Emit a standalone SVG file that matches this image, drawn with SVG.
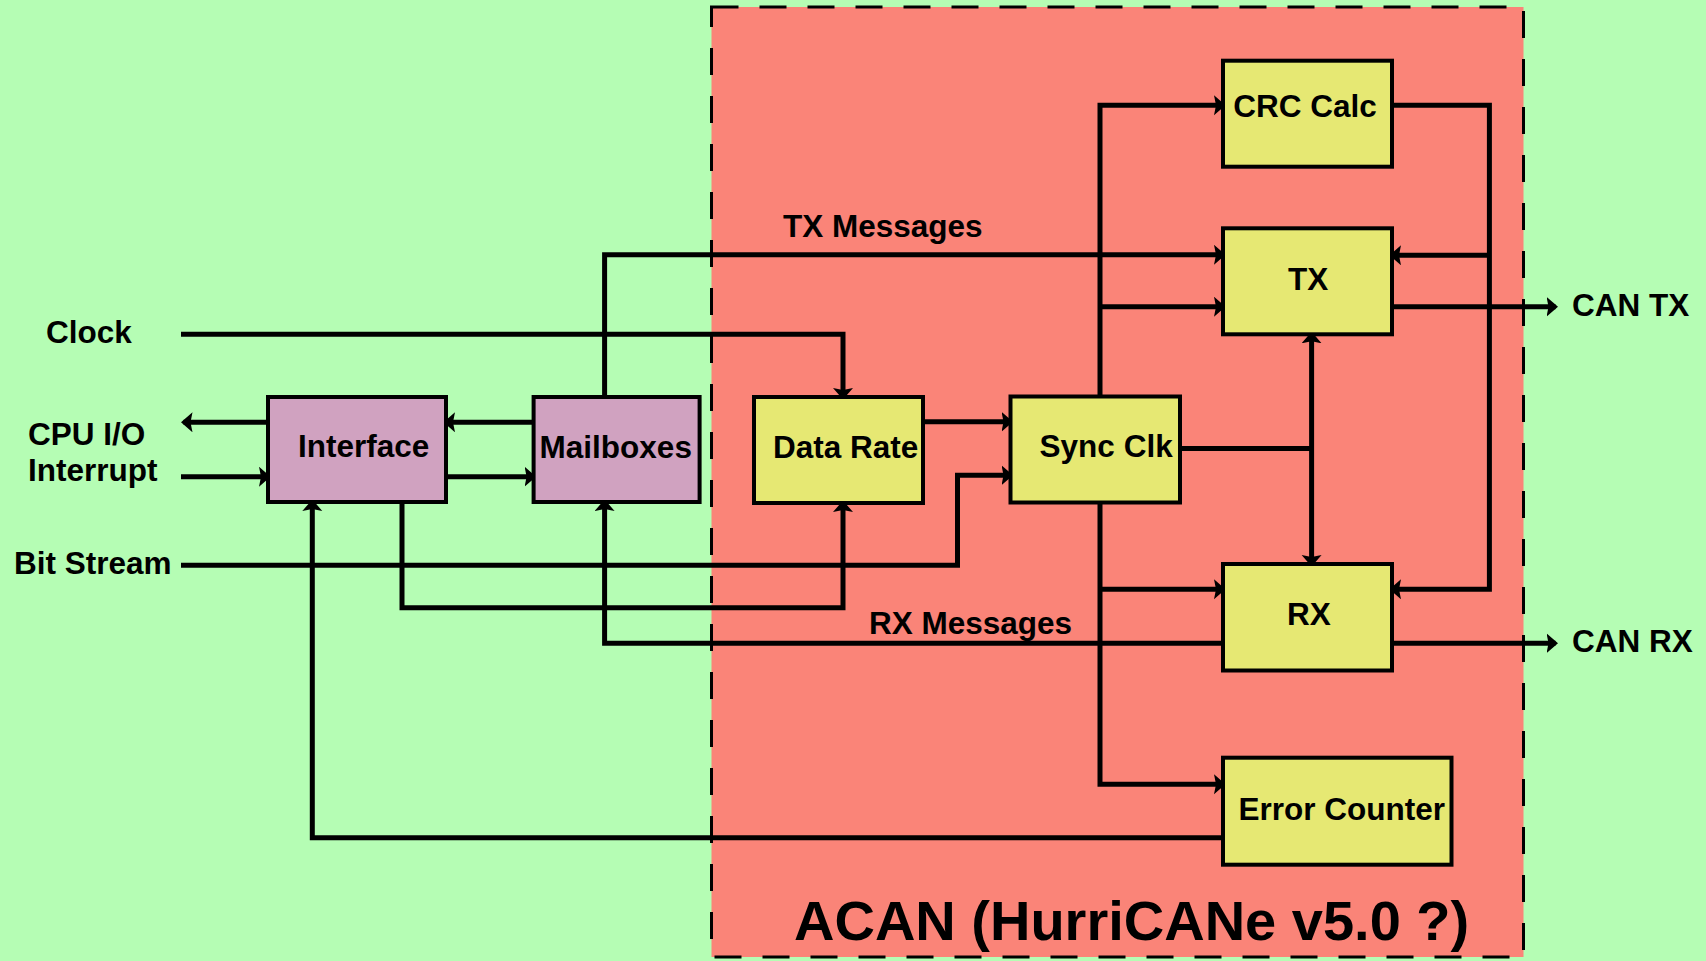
<svg xmlns="http://www.w3.org/2000/svg" width="1706" height="961" viewBox="0 0 1706 961">
<style>
.lbl{font-family:"Liberation Sans",Arial,sans-serif;font-weight:bold;font-size:31.5px;fill:#000}
.title{font-family:"Liberation Sans",Arial,sans-serif;font-weight:bold;font-size:56px;fill:#000}
.yb{fill:#e6e873;stroke:#000;stroke-width:4}
.pb{fill:#d0a2c0;stroke:#000;stroke-width:4}
.cn{fill:none;stroke:#000;stroke-width:5;stroke-linejoin:miter}
.ar{marker-end:url(#ah)}
</style>
<defs>
<marker id="ah" markerUnits="userSpaceOnUse" markerWidth="14" markerHeight="22" refX="9" refY="10" orient="auto-start-reverse">
<path d="M0,0 L11.5,10 L0,20 L2,10 Z" fill="#000"/>
</marker>
</defs>
<rect x="0" y="0" width="1706" height="961" fill="#b5fdb4"/>
<g id="acan">
<rect x="711.5" y="7" width="812" height="950" fill="#fa8478" stroke="#000" stroke-width="3" stroke-dasharray="27 21"/>
<text class="title" x="794" y="940">ACAN (HurriCANe v5.0 ?)</text>
</g>
<g id="labels">
<text class="lbl" x="46" y="343">Clock</text>
<text class="lbl" x="28" y="445">CPU I/O</text>
<text class="lbl" x="28" y="481">Interrupt</text>
<text class="lbl" x="14" y="574">Bit Stream</text>
<text class="lbl" x="783" y="237">TX Messages</text>
<text class="lbl" x="869" y="634">RX Messages</text>
<text class="lbl" x="1572" y="316">CAN TX</text>
<text class="lbl" x="1572" y="652">CAN RX</text>
</g>
<g id="connectors">
<path class="cn ar" d="M181,334.3 H843 V397"/>
<path class="cn ar" d="M268,422.3 H183.5"/>
<path class="cn ar" d="M181,476.7 H268"/>
<path class="cn ar" d="M533.6,422.3 H446"/>
<path class="cn ar" d="M446,476.7 H533.6"/>
<path class="cn ar" d="M604.6,397 V254.8 H1223"/>
<path class="cn ar" d="M402,502 V607.7 H843 V503"/>
<path class="cn ar" d="M181,565.3 H957.5 V475.3 H1010.5"/>
<path class="cn ar" d="M923,421.7 H1010.5"/>
<path class="cn ar" d="M1100,396.5 V105.3 H1223"/>
<path class="cn ar" d="M1100,306.7 H1223"/>
<path class="cn ar" d="M1392,105.3 H1489.4 V589.3 H1392"/>
<path class="cn ar" d="M1489.4,255.3 H1392"/>
<path class="cn ar" d="M1392,306.7 H1555.5"/>
<path class="cn" d="M1180,448.5 H1311.6"/>
<path class="cn ar" d="M1311.6,334.3 V564" style="marker-start:url(#ah)"/>
<path class="cn ar" d="M1100,502.5 V784.3 H1223"/>
<path class="cn ar" d="M1100,589.3 H1223"/>
<path class="cn ar" d="M1223,643.3 H604.6 V502"/>
<path class="cn ar" d="M1392,643.3 H1555.5"/>
<path class="cn ar" d="M1223,837.7 H312.3 V502"/>
</g>
<g id="interface">
<rect class="pb" x="268" y="397" width="178" height="105"/>
<text class="lbl" x="298" y="457.3">Interface</text>
</g>
<g id="mailboxes">
<rect class="pb" x="533.6" y="397" width="166" height="105"/>
<text class="lbl" x="539.6" y="457.7">Mailboxes</text>
</g>
<g id="datarate">
<rect class="yb" x="754" y="397" width="169" height="106"/>
<text class="lbl" x="773" y="457.7">Data Rate</text>
</g>
<g id="syncclk">
<rect class="yb" x="1010.5" y="396.5" width="169.5" height="106"/>
<text class="lbl" x="1039.6" y="457">Sync Clk</text>
</g>
<g id="crccalc">
<rect class="yb" x="1223" y="60.7" width="169" height="106"/>
<text class="lbl" x="1233.2" y="117.3">CRC Calc</text>
</g>
<g id="tx">
<rect class="yb" x="1223" y="228.3" width="169" height="106"/>
<text class="lbl" x="1288" y="290">TX</text>
</g>
<g id="rx">
<rect class="yb" x="1223" y="564" width="169" height="106.5"/>
<text class="lbl" x="1287" y="625">RX</text>
</g>
<g id="errorcounter">
<rect class="yb" x="1223" y="757.7" width="228.5" height="107"/>
<text class="lbl" x="1238.6" y="820">Error Counter</text>
</g>
</svg>
